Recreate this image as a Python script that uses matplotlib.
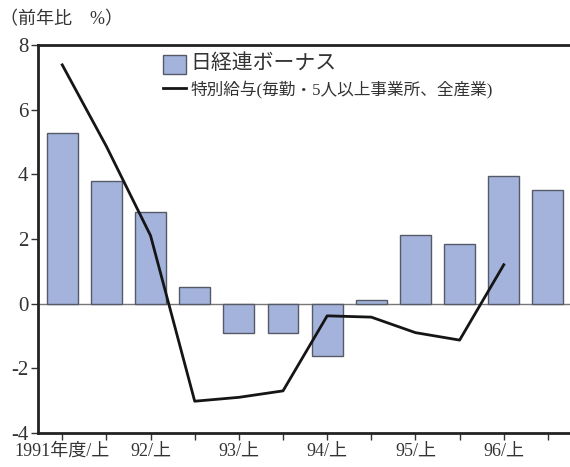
import matplotlib
matplotlib.use("Agg")
import matplotlib.pyplot as plt
import numpy as np

plt.rcParams['font.family'] = ['Liberation Serif', 'Noto Sans CJK JP', 'DejaVu Sans']

# half-year periods, 1991 first half .. 1996 second half
periods = ["1991上", "1991下", "92上", "92下", "93上", "93下",
           "94上", "94下", "95上", "95下", "96上", "96下"]
bonus = [5.26, 3.78, 2.83, 0.52, -0.92, -0.92, -1.62, 0.12, 2.12, 1.83, 3.95, 3.5]
special_pay = [7.38, 4.86, 2.1, -3.02, -2.9, -2.7, -0.38, -0.42, -0.9, -1.13, 1.2]
tick_labels = ["1991年度/上", "", "92/上", "", "93/上", "", "94/上", "", "95/上", "", "96/上", ""]

x = np.arange(len(periods))

fig = plt.figure(figsize=(5.7, 4.67), dpi=100)
ax = fig.add_axes([0.067, 0.073, 0.933, 0.831])

bars = ax.bar(x, bonus, width=0.7, color='#a3b3dc', edgecolor='#555a66', linewidth=1.0,
              label='日経連ボーナス', zorder=2)
line, = ax.plot(np.arange(len(special_pay)), special_pay, color='#151515', linewidth=2.0,
                label='特別給与(毎勤・5人以上事業所、全産業)', zorder=3)
ax.axhline(0, color='#777777', linewidth=1.0, zorder=1)

ax.set_xlim(-0.545, 11.5)
ax.set_ylim(-4, 8)
ax.set_yticks([-4, -2, 0, 2, 4, 6, 8])
ax.set_yticklabels(['-4', '-2', '0', '2', '4', '6', '8'], fontsize=15, color='#333333')
ax.set_xticks(x)
ax.set_xticklabels(tick_labels, fontsize=13, color='#333333')
ax.tick_params(axis='both', direction='out', length=5, width=1.0, color='#333333', pad=2)

for side in ['left', 'bottom', 'top']:
    ax.spines[side].set_linewidth(2.0)
    ax.spines[side].set_color('#222222')
ax.spines['right'].set_visible(False)

leg = ax.legend(handles=[bars, line], loc='upper left', bbox_to_anchor=(0.224, 0.99),
                frameon=False, fontsize=10, handlelength=1.7, handleheight=1.7,
                handletextpad=0.3, labelspacing=0.5, borderaxespad=0)
texts = leg.get_texts()
texts[0].set_fontsize(15)
texts[1].set_fontsize(12)
for t in texts:
    t.set_color('#333333')

fig.text(0.0, 0.958, '（前年比　%）', fontsize=13, color='#333333', va='center')

fig.savefig('out.png', dpi=100)
